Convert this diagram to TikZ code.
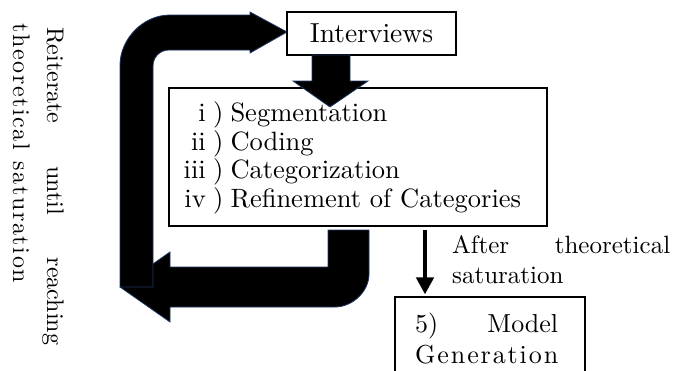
\documentclass[tikz,border=0pt]{standalone}
\usetikzlibrary{arrows.meta}
\DeclareFontFamily{TU}{lmr}{}
\DeclareFontShape{TU}{lmr}{m}{n}{<-> \UnicodeFontFile{lmroman10-regular}{\UnicodeFontTeXLigatures}}{}
\definecolor{edgeblue}{RGB}{32,56,100}
\makeatletter
\newcommand\spreadletters[2]{\makebox[#1][l]{\@tfor\spr@x:=#2\do{\spr@x\hfill}\unskip}}
\makeatother
\begin{document}
\begin{tikzpicture}[x=1pt,y=-1pt,
  box/.style={draw=black, line width=1.1pt, rectangle, inner sep=0pt},
  bigarrow/.style={fill=black, draw=edgeblue, line width=0.8pt, line join=miter},
  thinarrow/.style={draw=black, line width=4.6pt, -{Triangle[length=17pt,width=17pt]}},
  txt/.style={inner sep=0pt, anchor=base west},
  fA/.style={font=\fontsize{27.5}{34}\selectfont},
  fB/.style={font=\fontsize{26.5}{30}\selectfont},
  fC/.style={font=\fontsize{25}{30}\selectfont},
  fD/.style={font=\fontsize{26}{32}\selectfont},
  fE/.style={font=\fontsize{24}{28}\selectfont}
]
\useasboundingbox (0,0) rectangle (674,370);
\clip (0,0) rectangle (674,370);

% bottom L-shaped arrow (from process box, pointing left)
\fill[bigarrow] (328,230) -- (369,230) -- (369,274)
  .. controls (369,292) and (352,307) .. (335,307)
  -- (170,307) -- (170,322) -- (120,287) -- (170,252) -- (170,267)
  -- (328,267) -- cycle;

% top U-turn arrow (pointing right, into Interviews)
\fill[bigarrow] (120,287) -- (153,287) -- (153,66)
  .. controls (153,57) and (160,50) .. (169,50)
  -- (250,50) -- (250,53) -- (287,32) -- (250,12) -- (250,15)
  -- (170,15) .. controls (142,15) and (120,40) .. (120,65) -- cycle;

% boxes
\node[box, minimum width=169pt, minimum height=43pt, fA] (interviews) at (371.5,33.5) {Interviews};
\node[box, minimum width=378pt, minimum height=138pt] (proc) at (358,157) {};

% thick down arrow from Interviews
\fill[bigarrow] (312,55) -- (350,55) -- (350,81) -- (368,81) -- (330,107)
  -- (293,81) -- (312,81) -- cycle;

% list in process box
\node[inner sep=0pt, anchor=base east, fB] (n1) at (206,121) {i};
\node[txt, fB] (t1) at (213,121) {)\hspace{7pt}Segmentation};
\node[inner sep=0pt, anchor=base east, fB] (n2) at (206,150) {ii};
\node[txt, fB] (t2) at (213,150) {)\hspace{7pt}Coding};
\node[inner sep=0pt, anchor=base east, fB] (n3) at (206,178) {iii};
\node[txt, fB] (t3) at (213,178) {)\hspace{7pt}Categorization};
\node[inner sep=0pt, anchor=base east, fB] (n4) at (206,207) {iv};
\node[txt, fB] (t4) at (213,207) {)\hspace{7pt}Refinement of Categories};

% model box
\node[box, minimum width=190pt, minimum height=100pt] (model) at (490,347) {};
\node[txt, fD] (m1) at (415,332) {\makebox[143pt][s]{5) Model}};
\node[txt, fD] (m2) at (415,363) {\spreadletters{143pt}{Generation}};

% thin arrow to model
\coordinate (a1) at (425,230);
\draw[thinarrow] (a1) -- ([yshift=2pt]a1 |- model.north);

% label beside the thin arrow
\node[txt, fC] (after1) at (452,253) {\makebox[218pt][s]{After theoretical}};
\node[txt, fC] (after2) at (452,283) {saturation};

% rotated side text
\node[txt, rotate=-90, fE] (rot1) at (47,27) {\makebox[318pt][s]{Reiterate until reaching}};
\node[txt, rotate=-90, fE] (rot2) at (13,23) {\spreadletters{260pt}{theoretical~saturation}};
\end{tikzpicture}
\end{document}
